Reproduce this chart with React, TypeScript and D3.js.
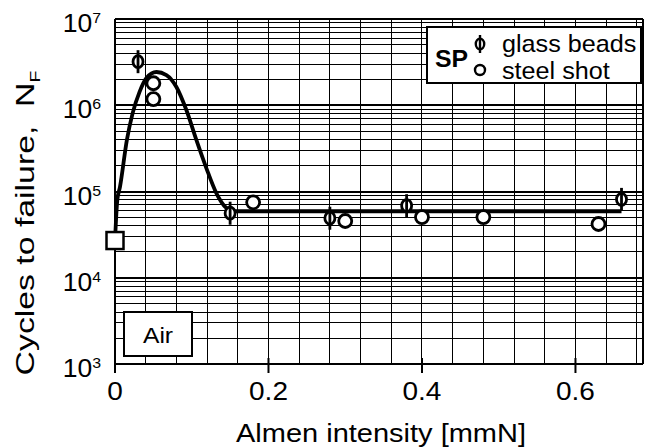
import React from 'react';
import * as d3 from 'd3';

const WIDTH = 654;
const HEIGHT = 447;
const PLOT = { left: 115, right: 643, top: 19, bottom: 364 };

// glass beads (phi symbol)
const glassX = [0.03, 0.15, 0.28, 0.38, 0.66];
const glassN = [3.2e6, 5.6e4, 4.9e4, 6.85e4, 8.1e4];

// steel shot (open circle)
const steelX = [0.05, 0.05, 0.18, 0.3, 0.4, 0.48, 0.63];
const steelN = [1.8e6, 1.18e6, 7.5e4, 4.55e4, 5.05e4, 5.05e4, 4.2e4];

// unpeened reference (square)
const airX = [0];
const airN = [2.7e4];

// trend curve
const curveX = [0, 0.003, 0.0065, 0.0155, 0.023, 0.032, 0.041, 0.054, 0.067, 0.08, 0.093, 0.106, 0.119, 0.132, 0.145, 0.153, 0.66];
const curveN = [2.7e4, 7.9e4, 1.13e5, 3.96e5, 8.1e5, 1.43e6, 2.07e6, 2.43e6, 2.24e6, 1.63e6, 8.8e5, 3.96e5, 1.87e5, 9.6e4, 6.45e4, 5.9e4, 5.9e4];

const xTicks = [0, 0.2, 0.4, 0.6];
const xTickLabels = ['0', '0.2', '0.4', '0.6'];
const yDecades = [3, 4, 5, 6, 7];

const FONT = '"Liberation Sans", Arial, Helvetica, sans-serif';

export default function App() {
    const x = d3.scaleLinear().domain([0, 0.688]).range([PLOT.left, PLOT.right]);
    const y = d3.scaleLog().domain([1e3, 1e7]).range([PLOT.bottom, PLOT.top]);

    const vGrid = d3.range(1, 18).map((i) => i * 0.04);
    const hGrid: number[] = [];
    yDecades.slice(0, -1).forEach((k) => {
        for (let m = 2; m <= 9; m++) hGrid.push(m * Math.pow(10, k));
    });

    const curve = curveX.map((cx, i) => [cx, curveN[i]] as [number, number]);
    const line = d3
        .line<[number, number]>()
        .x((d) => x(d[0]))
        .y((d) => y(d[1]))
        .curve(d3.curveMonotoneX);

    const glass = (cx: number, cy: number, key: string | number, rx = 5, ry = 6, len = 11.5, sw = 2.8) => (
        <g key={key}>
            <line x1={cx} x2={cx} y1={cy - len} y2={cy + len} stroke="#000" strokeWidth={sw} />
            <ellipse cx={cx} cy={cy} rx={rx} ry={ry} fill="#fff" stroke="#000" strokeWidth={sw} />
            <line x1={cx} x2={cx} y1={cy - ry} y2={cy + ry} stroke="#000" strokeWidth={sw} />
        </g>
    );

    return (
        <svg
            width={WIDTH}
            height={HEIGHT}
            style={{ position: 'fixed', left: 0, top: 0, background: '#fff' }}
            fontFamily={FONT}
        >
            <rect x={0} y={0} width={WIDTH} height={HEIGHT} fill="#fff" />

            {/* grid */}
            <g stroke="#000" strokeWidth={1} shapeRendering="crispEdges">
                {vGrid.map((v) => (
                    <line key={'v' + v} x1={x(v)} x2={x(v)} y1={PLOT.top} y2={PLOT.bottom} />
                ))}
                {hGrid.map((v) => (
                    <line key={'h' + v} x1={PLOT.left} x2={PLOT.right} y1={y(v)} y2={y(v)} />
                ))}
                {yDecades.map((k) => (
                    <line
                        key={'d' + k}
                        x1={PLOT.left}
                        x2={PLOT.right}
                        y1={y(Math.pow(10, k))}
                        y2={y(Math.pow(10, k))}
                        strokeWidth={2}
                    />
                ))}
                <line x1={PLOT.left} x2={PLOT.left} y1={PLOT.top} y2={PLOT.bottom} strokeWidth={2} />
                <line x1={PLOT.right} x2={PLOT.right} y1={PLOT.top} y2={PLOT.bottom} strokeWidth={2} />
            </g>

            {/* x ticks */}
            <g stroke="#000" strokeWidth={2}>
                {xTicks.map((t) => (
                    <line key={'t' + t} x1={x(t)} x2={x(t)} y1={PLOT.bottom - 6} y2={PLOT.bottom + 9} />
                ))}
            </g>
            {xTicks.map((t, i) => (
                <text
                    key={'xl' + t}
                    transform={`translate(${x(t)},400) scale(1.12,1)`}
                    textAnchor="middle"
                    fontSize={25}
                    fill="#000"
                >
                    {xTickLabels[i]}
                </text>
            ))}

            {/* y tick labels */}
            {yDecades.map((k) => (
                <text
                    key={'yl' + k}
                    transform={`translate(101,${y(Math.pow(10, k)) + 13}) scale(1.06,1)`}
                    textAnchor="end"
                    fontSize={25}
                    fill="#000"
                >
                    10
                    <tspan fontSize={15} dy={-9}>
                        {k}
                    </tspan>
                </text>
            ))}

            {/* axis titles */}
            <text
                transform={`translate(381,442) scale(1.16,1)`}
                textAnchor="middle"
                fontSize={25}
                fill="#000"
            >
                Almen intensity [mmN]
            </text>
            <text
                transform={`translate(34,223) rotate(-90) scale(1.3,1)`}
                textAnchor="middle"
                fontSize={26}
                fill="#000"
            >
                Cycles to failure,{'\u00a0 '}N
                <tspan fontSize={15} dy={6}>
                    F
                </tspan>
            </text>

            {/* trend curve */}
            <path d={line(curve) || ''} fill="none" stroke="#000" strokeWidth={3.8} strokeLinejoin="round" />

            {/* data */}
            {steelX.map((v, i) => (
                <circle key={'s' + i} cx={x(v)} cy={y(steelN[i])} r={6.5} fill="#fff" stroke="#000" strokeWidth={2.8} />
            ))}
            {glassX.map((v, i) => glass(x(v), y(glassN[i]), 'g' + i))}
            {airX.map((v, i) => (
                <rect
                    key={'a' + i}
                    x={x(v) - 8.5}
                    y={y(airN[i]) - 8.5}
                    width={17}
                    height={17}
                    fill="#fff"
                    stroke="#000"
                    strokeWidth={2.5}
                />
            ))}

            {/* Air label */}
            <rect x={124} y={312} width={68} height={44} fill="#fff" stroke="#000" strokeWidth={2} />
            <text transform="translate(158,343) scale(1.12,1)" textAnchor="middle" fontSize={22} fill="#000">
                Air
            </text>

            {/* legend */}
            <rect x={427} y={27} width={214} height={56} fill="#fff" stroke="#000" strokeWidth={2} />
            <text transform="translate(435,67) scale(1.08,1)" fontSize={23} fontWeight="bold" fill="#000">
                SP
            </text>
            {glass(480, 44, 'lg', 4.2, 5.2, 9, 2.4)}
            <circle cx={480} cy={70} r={5} fill="#fff" stroke="#000" strokeWidth={2.4} />
            <text transform="translate(502,52) scale(1.05,1)" fontSize={24} fill="#000">
                glass beads
            </text>
            <text transform="translate(502,79) scale(1.05,1)" fontSize={24} fill="#000">
                steel shot
            </text>
        </svg>
    );
}
